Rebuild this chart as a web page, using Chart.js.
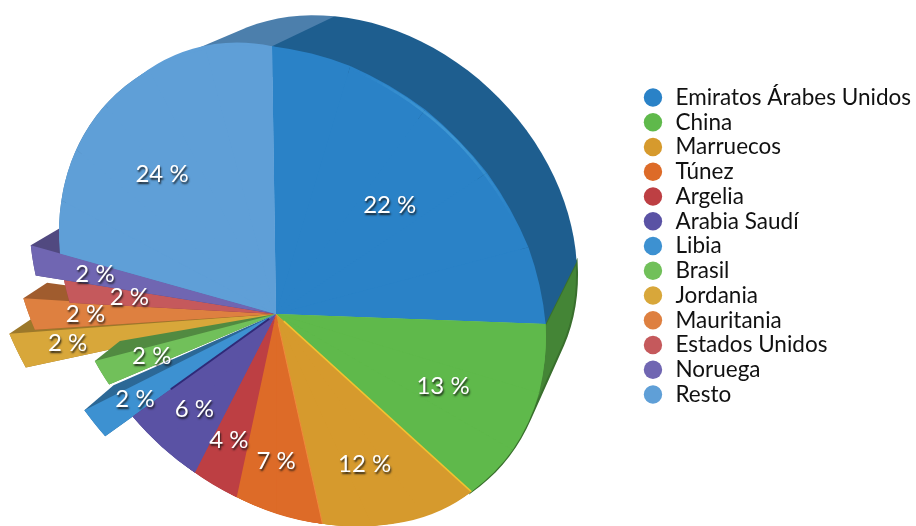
<!DOCTYPE html>
<html>
<head>
<meta charset="utf-8">
<title>Exportaciones por destino</title>
<style>
  html, body { margin: 0; background: #fff; overflow: hidden; }
  canvas { display: block; }
</style>
<script src="https://cdn.jsdelivr.net/npm/chart.js@4/dist/chart.umd.min.js"></script>
</head>
<body>
<canvas id="pieChart" width="916" height="526"></canvas>
<script>
/************ DATA ************/
const paises = ["Emiratos Árabes Unidos", "China", "Marruecos", "Túnez", "Argelia", "Arabia Saudí",
  "Libia", "Brasil", "Jordania", "Mauritania", "Estados Unidos", "Noruega", "Resto"];
const porcentajes = [22, 13, 12, 7, 4, 6, 2, 2, 2, 2, 2, 2, 24];

/************ STYLE ************/
const colores = ["#2a82c7", "#5fb94b", "#d69a2d", "#dd6b28", "#bd3f43", "#5a52a4",
  "#3d91d1", "#71c05a", "#d8a73a", "#de8040", "#c5595c", "#7066b2", "#5f9fd7"];
const FUENTE = "Lato, 'Open Sans', sans-serif";

// per slice: how far it is pulled out, small angle correction (deg), wall depth, label distance
const tirada = [1, 1, 1, 1, 1, 1, 1.234, 0.995, 1.424, 1.257, 0.999, 1.151, 1];
const giro = [0, 0, 0, -1, -2.5, -4.3, -4.3, -1.2, 1, 1.5, 1, 0, 0];
const fondo = [.116, .116, .116, .116, .116, .116, .04, .035, .03, .03, .03, .037, .116];
const distEtiqueta = [.67, .68, .71, .71, .71, .68, .914, .677, 1.10, .931, .673, .83, .675];
const ordenDibujo = [8, 9, 10, 11, 7, 6];
// thin coloured edges: slice whose start edge gets the line, colour, width
const bordes = [[2, "#f2c230", 1.5], [3, "#f08a3c", 1], [6, "#2f2a78", 2]];

/************ PERSPECTIVE ************/
const apex = [276, 314];
const M = [238, 3.4, 52.4, 229];
const W = [-0.11, 0.145];
const fuga = [813, -212];

function proyecta(ang, f) {
  const ux = Math.cos(ang) * f, uy = Math.sin(ang) * f;
  const d = 1 + W[0] * ux + W[1] * uy;
  return [apex[0] + (M[0] * ux + M[1] * uy) / d, apex[1] + (M[2] * ux + M[3] * uy) / d];
}

function trasera(p, k) {
  return [p[0] + (fuga[0] - p[0]) * k, p[1] + (fuga[1] - p[1]) * k];
}

function oscurece(hex, k) {
  const n = parseInt(hex.slice(1), 16);
  return "rgb(" + Math.round((n >> 16) * k) + "," + Math.round(((n >> 8) & 255) * k) + "," + Math.round((n & 255) * k) + ")";
}

// silhouette of an extruded slice
function envolvente(puntos) {
  const pts = puntos.slice().sort((a, b) => a[0] - b[0] || a[1] - b[1]);
  const giroDe = (o, a, b) => (a[0] - o[0]) * (b[1] - o[1]) - (a[1] - o[1]) * (b[0] - o[0]);
  const mitad = lista => {
    const h = [];
    lista.forEach(p => {
      while (h.length >= 2 && giroDe(h[h.length - 2], h[h.length - 1], p) <= 0) h.pop();
      h.push(p);
    });
    h.pop();
    return h;
  };
  return mitad(pts).concat(mitad(pts.slice().reverse()));
}

/************ 3D PIE CONTROLLER ************/
class Pie3DController extends Chart.PieController {
  angulos(arc, i) {
    const d = giro[i] * Math.PI / 180;
    return [arc.startAngle + d, arc.endAngle + d];
  }

  pared(ctx, arc, i) {
    const [a0, a1] = this.angulos(arc, i);
    const n = Math.max(3, Math.ceil((a1 - a0) / 0.05));
    const puntos = [];
    for (let s = 0; s <= n; s++) {
      const p = proyecta(a0 + (a1 - a0) * s / n, tirada[i]);
      puntos.push(p, trasera(p, fondo[i]));
    }
    if (ordenDibujo.includes(i)) puntos.push(apex);
    ctx.beginPath();
    envolvente(puntos).forEach(p => ctx.lineTo(p[0], p[1]));
    ctx.closePath();
    ctx.fillStyle = oscurece(colores[i], i === 12 ? 0.8 : 0.72);
    ctx.fill();
    if (i === 1) {
      ctx.strokeStyle = oscurece(colores[i], 0.6);
      ctx.lineWidth = 2;
      ctx.stroke();
    }
  }

  // one wedge of the arc, mapped so its corners land on the projected plane
  trozo(ctx, arc, b0, b1, f) {
    const R = arc.outerRadius;
    const p1 = proyecta(b0, f), p2 = proyecta(b1, f);
    const ax = Math.cos(b0) * R, ay = Math.sin(b0) * R, bx = Math.cos(b1) * R, by = Math.sin(b1) * R;
    const det = ax * by - bx * ay;
    const qx1 = p1[0] - apex[0], qy1 = p1[1] - apex[1], qx2 = p2[0] - apex[0], qy2 = p2[1] - apex[1];
    const A = (qx1 * by - qx2 * ay) / det, C = (qx2 * ax - qx1 * bx) / det;
    const B = (qy1 * by - qy2 * ay) / det, D = (qy2 * ax - qy1 * bx) / det;
    ctx.save();
    ctx.transform(A, B, C, D, apex[0] - A * arc.x - C * arc.y, apex[1] - B * arc.x - D * arc.y);
    arc.startAngle = b0;
    arc.endAngle = b1;
    arc.circumference = b1 - b0;
    arc.draw(ctx, this.chart.chartArea);
    ctx.restore();
  }

  cara(ctx, arc, i) {
    const [a0, a1] = this.angulos(arc, i);
    const save = [arc.startAngle, arc.endAngle, arc.circumference];
    this.trozo(ctx, arc, a0, a1, tirada[i]);
    const n = Math.ceil((a1 - a0) / 0.3);
    for (let s = 0; n > 1 && s < n; s++) {
      const b0 = a0 + (a1 - a0) * s / n, b1 = a0 + (a1 - a0) * (s + 1) / n;
      this.trozo(ctx, arc, b0, b1, tirada[i]);
    }
    arc.startAngle = save[0];
    arc.endAngle = save[1];
    arc.circumference = save[2];
  }

  draw() {
    const ctx = this.chart.ctx, arcs = this._cachedMeta.data;
    const principales = arcs.map((a, i) => i).filter(i => !ordenDibujo.includes(i));
    principales.slice().reverse().forEach(i => this.pared(ctx, arcs[i], i));
    ordenDibujo.forEach(i => {
      this.pared(ctx, arcs[i], i);
      this.cara(ctx, arcs[i], i);
    });
    principales.forEach(i => this.cara(ctx, arcs[i], i));
  }
}
Pie3DController.id = "pie3d";
Pie3DController.defaults = Chart.PieController.defaults;
Chart.register(Pie3DController);

/************ LABELS AND HIGHLIGHTS ************/
const etiquetas = {
  id: "etiquetas",
  afterDatasetsDraw(chart) {
    const ctx = chart.ctx, arcs = chart.getDatasetMeta(0).data;
    ctx.save();

    // soft light on the edge of the biggest front slice
    const [h0, h1] = [arcs[0].startAngle + 0.25, arcs[0].endAngle - 0.3];
    for (let s = 0; s < 40; s++) {
      const t = (s + 0.5) / 40, peso = Math.pow(Math.sin(Math.PI * t), 2) * (1 - 0.5 * t);
      const p = proyecta(h0 + (h1 - h0) * s / 40, 0.992), q = proyecta(h0 + (h1 - h0) * (s + 1) / 40, 0.992);
      ctx.beginPath();
      ctx.moveTo(p[0], p[1]);
      ctx.lineTo(q[0], q[1]);
      ctx.strokeStyle = "rgba(110,200,240," + (0.4 * peso) + ")";
      ctx.lineWidth = 2.5;
      ctx.stroke();
    }

    bordes.forEach(([i, color, ancho]) => {
      const ang = arcs[i].startAngle + giro[i] * Math.PI / 180;
      const c0 = proyecta(ang, 0.04), c1 = proyecta(ang, i === 6 ? 0.7 : 1);
      ctx.beginPath();
      ctx.moveTo(c0[0], c0[1]);
      ctx.lineTo(c1[0], c1[1]);
      ctx.strokeStyle = color;
      ctx.lineWidth = ancho;
      ctx.stroke();
    });

    ctx.font = "24px " + FUENTE;
    ctx.textAlign = "center";
    ctx.textBaseline = "middle";
    ctx.fillStyle = "#fff";
    ctx.shadowColor = "rgba(20,20,20,.85)";
    ctx.shadowBlur = 2;
    ctx.shadowOffsetX = 1;
    ctx.shadowOffsetY = 2;
    arcs.forEach((arc, i) => {
      const mid = (arc.startAngle + arc.endAngle) / 2 + giro[i] * Math.PI / 180;
      const p = proyecta(mid, distEtiqueta[i]);
      ctx.fillText(porcentajes[i] + " %", p[0], p[1]);
    });
    ctx.restore();
  },
};

/************ CHART ************/
new Chart(document.getElementById("pieChart").getContext("2d"), {
  type: "pie3d",
  data: {
    labels: paises,
    datasets: [{
      data: porcentajes,
      backgroundColor: colores,
      borderWidth: 0,
      clip: false,
    }],
  },
  options: {
    responsive: false,
    animation: false,
    events: [],
    layout: { padding: { top: 84, right: -5 } },
    plugins: {
      tooltip: { enabled: false },
      legend: {
        position: "right",
        align: "start",
        labels: {
          color: "#111",
          font: { family: FUENTE, size: 22.5 },
          usePointStyle: true,
          pointStyle: "circle",
          boxWidth: 24,
          boxHeight: 13,
          padding: 2.25,
        },
      },
    },
  },
  plugins: [etiquetas],
});
</script>
</body>
</html>
